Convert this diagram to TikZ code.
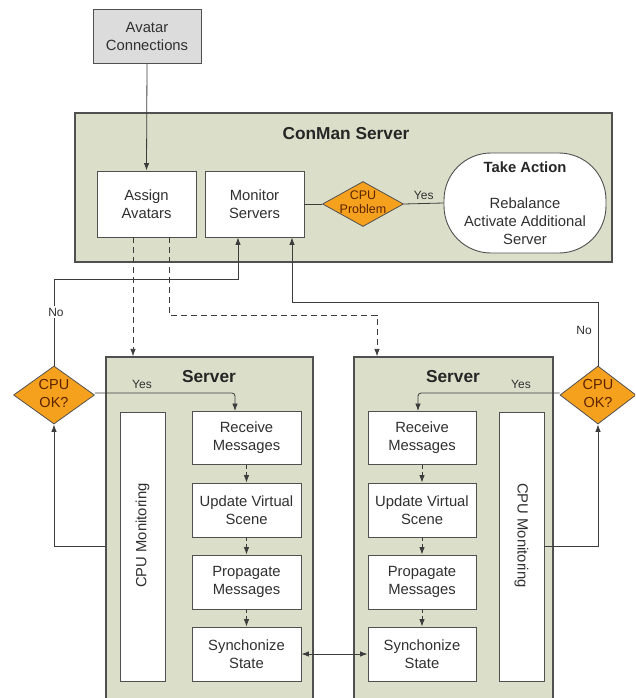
\documentclass[tikz,border=0pt]{standalone}
\usepackage{fontspec}
\setmainfont{Liberation Sans}
\usetikzlibrary{shapes.geometric,arrows.meta,calc}

\definecolor{panel}{HTML}{DBDFCA}
\definecolor{edge}{HTML}{505050}
\definecolor{wire}{HTML}{3C3C3C}
\definecolor{decide}{HTML}{F6A11E}
\definecolor{decidetxt}{HTML}{5C2400}
\definecolor{srcfill}{HTML}{DCDCDC}
\definecolor{ink}{HTML}{303030}

\begin{document}
\begin{tikzpicture}[x=1pt,y=-1pt,
  txt/.style={font=\fontsize{14.8}{18}\selectfont, text=ink, align=center},
  box/.style={txt, draw=edge, line width=0.9pt, fill=white, inner sep=0pt},
  panelbox/.style={draw=edge, line width=1.2pt, fill=panel, inner sep=0pt},
  decision/.style={diamond, draw=edge, line width=0.8pt, fill=decide, inner sep=0pt},
  dtxt/.style={font=\fontsize{14.5}{18}\selectfont, text=decidetxt, align=center},
  title/.style={font=\fontsize{17.3}{20}\selectfont\bfseries, text=black!85},
  lbl/.style={font=\fontsize{12}{14}\selectfont, text=ink, inner sep=1.5pt},
  wireline/.style={draw=wire, line width=0.8pt},
  tip/.style={-{Latex[length=7.5pt,width=5.5pt]}},
  flow/.style={wireline, tip},
  dflow/.style={flow, dash pattern=on 6pt off 4pt},
  sflow/.style={flow, dash pattern=on 4pt off 3pt},
]
\useasboundingbox (0,0) rectangle (635,698);
\clip (0,0) rectangle (635,698);

% ---------- source ----------
\node[box, fill=srcfill, minimum width=108pt, minimum height=54pt]
  (avatar) at (147,36) {Avatar\\Connections};

% ---------- ConMan server ----------
\node[panelbox, minimum width=537pt, minimum height=149pt] (conman) at (343.5,187.5) {};
\node[title] (conmantitle) at (346,134) {ConMan Server};
\node[box, minimum width=99pt, minimum height=66pt] (assign) at (146.5,204) {Assign\\Avatars};
\node[box, minimum width=99pt, minimum height=66pt] (monitor) at (254.5,204) {Monitor\\Servers};
\node[decision, minimum width=81pt, minimum height=45pt] (cpuprob) at (363,204) {};
\node[dtxt, font=\fontsize{12.5}{13.5}\selectfont] (cpuprobtxt) at (363,202) {CPU\\Problem};
\node[box, rounded corners=47pt, minimum width=162pt, minimum height=100pt]
  (take) at (525,203) {\textbf{\textcolor{black!85}{Take Action}}\\[18pt]Rebalance\\Activate Additional\\Server};

% ---------- server panels ----------
\node[panelbox, minimum width=207pt, minimum height=363pt] (lserver) at (209.5,538.5) {};
\node[panelbox, minimum width=199pt, minimum height=363pt] (rserver) at (453.5,538.5) {};
\node[title] (ltitle) at (209,377) {Server};
\node[title] (rtitle) at (453,377) {Server};

% left server
\node[box, minimum width=45pt, minimum height=269pt] (lcpu) at (142.5,546.5) {};
\node[txt, rotate=90] (lcputxt) at ([yshift=11pt]lcpu.center) {CPU Monitoring};
\node[box, minimum width=109pt, minimum height=53pt] (lrecv) at (246.5,438) {Receive\\Messages};
\node[box, minimum width=109pt, minimum height=54pt] (lupd)  at (246.5,510) {Update Virtual\\Scene};
\node[box, minimum width=109pt, minimum height=54pt] (lprop) at (246.5,582) {Propagate\\Messages};
\node[box, minimum width=109pt, minimum height=54pt] (lsync) at (246.5,654) {Synchonize\\State};

% right server
\node[box, minimum width=45pt, minimum height=269pt] (rcpu) at (521.5,546.5) {};
\node[txt, rotate=-90] (rcputxt) at ([yshift=11pt]rcpu.center) {CPU Monitoring};
\node[box, minimum width=108pt, minimum height=53pt] (rrecv) at (422,438) {Receive\\Messages};
\node[box, minimum width=108pt, minimum height=54pt] (rupd)  at (422,510) {Update Virtual\\Scene};
\node[box, minimum width=108pt, minimum height=54pt] (rprop) at (422,582) {Propagate\\Messages};
\node[box, minimum width=108pt, minimum height=54pt] (rsync) at (422,654) {Synchonize\\State};

% ---------- decisions beside the servers ----------
\node[decision, minimum width=81pt, minimum height=58pt] (ldiam) at (54,395) {};
\node[dtxt] (ldiamtxt) at (54,394) {CPU\\OK?};
\node[decision, minimum width=76pt, minimum height=58pt] (rdiam) at (598,395) {};
\node[dtxt] (rdiamtxt) at (598,394) {CPU\\OK?};

% ---------- connectors ----------
\draw[flow] (avatar.south) -- (assign.north);
\draw[wireline] (monitor.east) -- (cpuprob.west);
\draw[wireline] (cpuprob.east) -- node[lbl, above, yshift=2pt] {Yes} (take.west);

% avatar assignment to the servers
\coordinate (dA) at ([xshift=-13.5pt]assign.south);
\coordinate (dB) at ([xshift=22.5pt]assign.south);
\coordinate (dBend) at ([xshift=-76.5pt]rserver.north);
\draw[dflow] (dA) -- (dA |- lserver.north);
\draw[dflow] (dB) |- ($(dBend)+(0,-41)$) -- (dBend);

% "No" feedback into Monitor Servers
\coordinate (mA) at ([xshift=-16.5pt]monitor.south);
\coordinate (mB) at ([xshift=37.5pt]monitor.south);
\draw[flow] (ldiam.north) |- ($(mA)+(0,42)$) -- (mA);
\draw[flow] (rdiam.north) |- ($(mB)+(0,65)$) -- (mB);
\node[lbl, fill=white] (lno) at (56,312) {No};
\node[lbl, fill=white] (rno) at (584,330) {No};

% "Yes" into Receive Messages
\draw[flow, rounded corners=3pt] ([yshift=2pt]ldiam.east) -| ([xshift=-11.5pt]lrecv.north);
\draw[flow, rounded corners=3pt] ([yshift=2pt]rdiam.west) -| ([xshift=-4pt]rrecv.north);
\node[lbl] (lyes) at (142,384) {Yes};
\node[lbl] (ryes) at (521,384) {Yes};

% monitoring loops to the decisions
\draw[flow] (lserver.west |- lcpu.center) -| (ldiam.south);
\draw[flow] (rcpu.east) -| (rdiam.south);

% processing pipeline
\draw[sflow] (lrecv) -- (lupd);
\draw[sflow] (lupd) -- (lprop);
\draw[sflow] (lprop) -- (lsync);
\draw[sflow] (rrecv) -- (rupd);
\draw[sflow] (rupd) -- (rprop);
\draw[sflow] (rprop) -- (rsync);

% state synchronisation
\draw[wireline, {Latex[length=7.5pt,width=5.5pt]}-{Latex[length=7.5pt,width=5.5pt]}] (lsync.east) -- (rsync.west);
\end{tikzpicture}
\end{document}
